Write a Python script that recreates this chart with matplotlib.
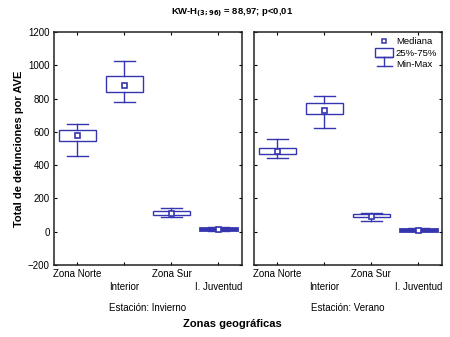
import matplotlib.pyplot as plt
import numpy as np
from matplotlib.patches import Rectangle
from matplotlib.lines import Line2D
from matplotlib.legend_handler import HandlerBase

# Datos (min, q1, mediana, q3, max)
zonas = ["Zona Norte", "Interior", "Zona Sur", "I. Juventud"]
estaciones = ["Invierno", "Verano"]

invierno_min = [452, 782, 86, 5]
invierno_q1 = [546, 842, 100, 10]
invierno_med = [580, 880, 112, 15]
invierno_q3 = [608, 938, 122, 20]
invierno_max = [648, 1026, 140, 25]

verano_min = [440, 620, 66, 2]
verano_q1 = [468, 706, 86, 6]
verano_med = [486, 730, 94, 12]
verano_q3 = [502, 776, 106, 16]
verano_max = [558, 814, 110, 20]

yticks = [-200, 0, 200, 400, 600, 800, 1000, 1200]

col = "#3535b0"
plt.rcParams['font.family'] = ['Liberation Sans', 'DejaVu Sans']


class HandlerMinMax(HandlerBase):
    def create_artists(self, legend, orig_handle, xd, yd, w, h, fontsize, trans):
        cx = xd + w / 2
        l1 = Line2D([cx - w * 0.4, cx + w * 0.4], [yd + h * 0.95] * 2, color=col, lw=1, transform=trans)
        l2 = Line2D([cx - w * 0.4, cx + w * 0.4], [yd - h * 0.05] * 2, color=col, lw=1, transform=trans)
        l3 = Line2D([cx, cx], [yd - h * 0.05, yd + h * 0.95], color=col, lw=1, transform=trans)
        return [l1, l2, l3]


def draw_boxes(ax, mn, q1, med, q3, mx):
    x = np.arange(len(mn))
    for i in x:
        lw = 1.0
        if q3[i] - q1[i] < 15:
            lw = 2.0
        ax.add_patch(Rectangle((i - 0.4, q1[i]), 0.8, q3[i] - q1[i], fill=False, ec=col, lw=lw))
        ax.plot([i, i], [mn[i], q1[i]], color=col, lw=1)
        ax.plot([i, i], [q3[i], mx[i]], color=col, lw=1)
        ax.plot([i - 0.23, i + 0.23], [mn[i], mn[i]], color=col, lw=1)
        ax.plot([i - 0.23, i + 0.23], [mx[i], mx[i]], color=col, lw=1)
    ax.plot(x, med, 's', ms=3.6, mfc='white', mec=col, mew=1.2, zorder=5)


fig, axes = plt.subplots(1, 2, figsize=(4.5, 3.37), dpi=100, sharey=True)
fig.subplots_adjust(left=0.12, right=0.982, top=0.905, bottom=0.214, wspace=0.064)

datos = [
    (invierno_min, invierno_q1, invierno_med, invierno_q3, invierno_max),
    (verano_min, verano_q1, verano_med, verano_q3, verano_max),
]

for ax, d, est in zip(axes, datos, estaciones):
    draw_boxes(ax, *d)
    ax.set_xlim(-0.5, 3.5)
    ax.set_ylim(-200, 1200)
    ax.set_yticks(yticks)
    ax.set_xticks(range(len(zonas)))
    ax.set_xticklabels([z if i % 2 == 0 else "\n" + z for i, z in enumerate(zonas)], fontsize=7,
                       linespacing=1.35)
    ax.tick_params(direction='in', top=True, right=True, length=2.5, width=0.8, labelsize=7, pad=3)
    for s in ax.spines.values():
        s.set_linewidth(1.1)
        s.set_color('#222222')
    ax.text(0.5, -0.185, "Estación: " + est, transform=ax.transAxes, ha='center', va='center', fontsize=7)

axes[0].set_ylabel("Total de defunciones por AVE", fontsize=8, fontweight='bold', labelpad=3)

handles = [
    Line2D([], [], ls='none', marker='s', ms=3.5, mfc='white', mec=col, mew=1.1),
    Rectangle((0, 0), 1, 1, fill=False, ec=col, lw=1),
    Line2D([], [], color=col),
]
axes[1].legend(handles, ["Mediana", "25%-75%", "Min-Max"], handler_map={handles[2]: HandlerMinMax()},
               loc='upper right', frameon=False, fontsize=6.8, handlelength=1.9, handleheight=1.1,
               handletextpad=0.25, labelspacing=0.15, borderaxespad=0.3, borderpad=0.2)

fig.text(0.516, 0.038, "Zonas geográficas", ha='center', va='center', fontsize=8, fontweight='bold')
fig.text(0.516, 0.962, r"KW-H$_{\mathbf{(3;96)}}$ = 88,97; p<0,01", ha='center', va='center',
         fontsize=6.8, fontweight='bold')

fig.savefig("out.png", dpi=100)
